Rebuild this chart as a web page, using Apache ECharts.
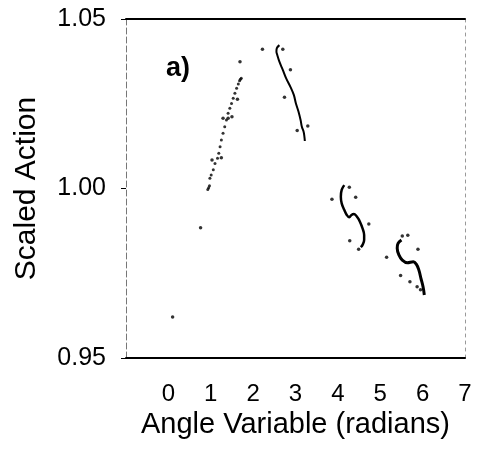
<!DOCTYPE html>
<html><head><meta charset="utf-8">
<script src="https://cdn.jsdelivr.net/npm/echarts@6/dist/echarts.min.js"></script>
<style>html,body{margin:0;padding:0;background:#fff}#c{width:477px;height:466px}</style>
</head><body><div id="c"></div>
<script>
// X tick labels and Y tick labels
const xTickLabels = [0, 1, 2, 3, 4, 5, 6, 7];
const yTickLabels = [0.95, 1.00, 1.05];

// Rising dotted branch (angle, action)
const risingX = [0.93,0.95,0.97,0.98,1.01,1.06,1.10,1.16,1.19,1.22,1.25,1.29,1.33,1.37,1.41,1.45,1.49,1.53,1.57,1.61,1.65,1.68,1.70,1.72];
const risingY = [0.9997,1.0002,1.0008,1.0030,1.0040,1.0055,1.0074,1.0089,1.0104,1.0123,1.0143,1.0163,1.0182,1.0202,1.0222,1.0237,1.0251,1.0266,1.0281,1.0296,1.0308,1.0318,1.0322,1.0325];

// Solid curve near 2.6 - 3.2
const curve2X = [2.62,2.56,2.55,2.57,2.62,2.70,2.78,2.88,2.96,3.01,3.07,3.12,3.15,3.19,3.21,3.22];
const curve2Y = [1.0423,1.0414,1.0404,1.0394,1.0374,1.0350,1.0325,1.0300,1.0276,1.0251,1.0227,1.0202,1.0182,1.0168,1.0153,1.0140];

// S-shaped curve near 4.1 - 4.6
const curve3X = [4.15,4.09,4.07,4.09,4.15,4.21,4.27,4.32,4.38,4.46,4.52,4.58,4.62,4.62,4.58,4.54];
const curve3Y = [1.0010,0.9996,0.9976,0.9956,0.9937,0.9922,0.9915,0.9922,0.9925,0.9915,0.9902,0.9883,0.9863,0.9848,0.9833,0.9827];

// S-shaped curve near 5.4 - 6.0
const curve4X = [5.50,5.42,5.40,5.44,5.52,5.64,5.78,5.85,5.91,5.96,6.01,6.04];
const curve4Y = [0.9848,0.9838,0.9824,0.9804,0.9789,0.9781,0.9784,0.9777,0.9760,0.9735,0.9710,0.9686];

// Scattered isolated points
const scatterX = [0.10,0.76,1.03,1.25,1.29,1.41,1.50,1.63,1.69,2.22,2.70,2.88,2.74,3.04,3.29,4.27,3.86,4.42,4.73,4.28,4.49,5.52,5.65,5.15,5.89,5.48,5.70,5.87,5.95];
const scatterY = [0.9621,0.9884,1.0084,1.0091,1.0207,1.0207,1.0212,1.0263,1.0374,1.0411,1.0411,1.0350,1.0269,1.0171,1.0184,1.0004,0.9968,0.9974,0.9895,0.9846,0.9821,0.9860,0.9862,0.9797,0.9821,0.9743,0.9725,0.9710,0.9701];

const zip = (a, b) => a.map((v, i) => [v, b[i]]);
const FONT = 'Liberation Sans';

const chart = echarts.init(document.getElementById('c'), null, {renderer: 'canvas'});
chart.setOption({
  animation: false,
  backgroundColor: '#fff',
  grid: {left: 126, right: 12, top: 19, bottom: 108},
  xAxis: [{
    type: 'value', min: -1, max: 7, interval: 1,
    axisLine: {show: true, onZero: false, lineStyle: {color: '#000', width: 2}},
    axisTick: {show: false},
    splitLine: {show: false},
    axisLabel: {
      margin: 24, color: '#000', fontFamily: FONT, fontSize: 24,
      formatter: v => xTickLabels.includes(v) ? String(v) : ''
    },
    name: 'Angle Variable (radians)', nameLocation: 'middle', nameGap: 52,
    nameTextStyle: {color: '#000', fontFamily: FONT, fontSize: 29}
  }, {
    type: 'value', position: 'top', min: -1, max: 7,
    axisLine: {show: true, onZero: false, lineStyle: {color: '#000', width: 2}},
    axisTick: {show: false}, axisLabel: {show: false}, splitLine: {show: false}
  }],
  yAxis: [{
    type: 'value', min: 0.95, max: 1.05, interval: 0.05,
    axisLine: {show: true, onZero: false, lineStyle: {color: '#777', width: 1, type: [6, 3]}},
    axisTick: {show: true, inside: false, length: 5, lineStyle: {color: '#000', width: 1}},
    splitLine: {show: false},
    axisLabel: {
      margin: 20, color: '#000', fontFamily: FONT, fontSize: 25,
      formatter: v => { const t = yTickLabels.find(x => Math.abs(x - v) < 1e-9); return t === undefined ? '' : t.toFixed(2); }
    },
    name: 'Scaled Action', nameLocation: 'middle', nameGap: 84, nameRotate: 90,
    nameTextStyle: {color: '#000', fontFamily: FONT, fontSize: 30}
  }, {
    type: 'value', position: 'right', min: 0.95, max: 1.05,
    axisLine: {show: true, onZero: false, lineStyle: {color: '#999', width: 1, type: [3, 4]}},
    axisTick: {show: false}, axisLabel: {show: false}, splitLine: {show: false}
  }],
  graphic: [{
    type: 'text', left: 166, top: 55,
    style: {text: 'a)', fontFamily: FONT, fontSize: 27, fontWeight: 'bold', fill: '#000'}
  }],
  series: [
    {type: 'scatter', data: zip(risingX, risingY), symbolSize: 3, itemStyle: {color: '#000'}},
    {type: 'line', data: zip(curve2X, curve2Y), showSymbol: false, smooth: 0.4, lineStyle: {color: '#000', width: 2}},
    {type: 'line', data: zip(curve3X, curve3Y), showSymbol: false, smooth: 0.4, lineStyle: {color: '#000', width: 2.5}},
    {type: 'line', data: zip(curve4X, curve4Y), showSymbol: false, smooth: 0.4, lineStyle: {color: '#000', width: 3}},
    {type: 'scatter', data: zip(scatterX, scatterY), symbolSize: 3.5, itemStyle: {color: '#000'}}
  ]
});
</script></body></html>
